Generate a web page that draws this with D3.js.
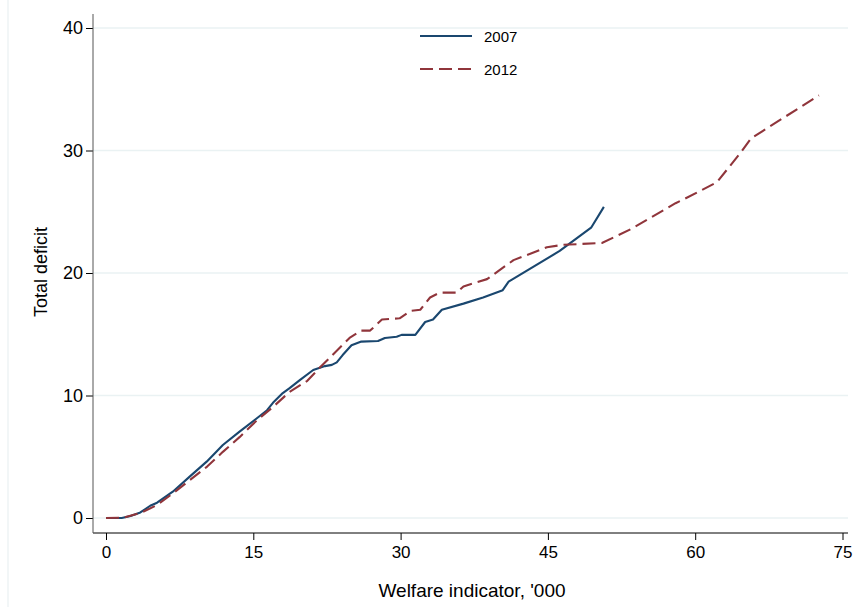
<!DOCTYPE html>
<html>
<head>
<meta charset="utf-8">
<script src="https://cdn.jsdelivr.net/npm/d3@7"></script>
<style>
    body { margin: 0; background: #fff; }
    text { font-family: "Liberation Sans", Arial, sans-serif; fill: #000; }
</style>
</head>
<body>
<div id="chart"></div>
<script>
// Series values (welfare indicator '000, total deficit)
var x2007 = [0, 1.6, 2.5, 3.5, 4.5, 5.2, 6.8, 8.55, 10.25, 11.9, 13.6, 15.3, 16.4, 17.0, 18.0, 18.7, 19.8, 21.1, 22.3, 23.0, 23.5, 24.1, 25.0, 26.0, 27.7, 28.4, 29.6, 30.1, 31.5, 32.5, 33.3, 34.2, 36.4, 38.4, 40.4, 41.0, 46.2, 49.4, 50.7];
var y2007 = [0, 0, 0.16, 0.45, 1.0, 1.25, 2.15, 3.4, 4.6, 5.96, 7.05, 8.1, 8.8, 9.4, 10.2, 10.6, 11.3, 12.08, 12.4, 12.5, 12.7, 13.3, 14.1, 14.4, 14.45, 14.7, 14.8, 14.95, 14.95, 16.0, 16.2, 17.0, 17.5, 18.0, 18.6, 19.3, 21.8, 23.7, 25.4];

var x2012 = [0, 1.7, 3.5, 5.2, 6.8, 8.55, 10.3, 11.9, 13.6, 15.4, 17.0, 18.7, 20.5, 21.8, 22.8, 24.8, 26.0, 26.9, 28.1, 29.9, 31.0, 32.0, 33.0, 34.0, 35.7, 36.4, 38.8, 41.5, 44.9, 46.5, 50.5, 53.5, 58.0, 58.8, 62.2, 64.7, 65.7, 72.6];
var y2012 = [0, 0.02, 0.4, 1.06, 2.0, 3.1, 4.2, 5.4, 6.6, 8.0, 9.06, 10.3, 11.2, 12.3, 13.1, 14.7, 15.3, 15.3, 16.2, 16.3, 16.9, 17.0, 18.0, 18.4, 18.4, 18.9, 19.5, 21.05, 22.1, 22.3, 22.45, 23.6, 25.7, 26.0, 27.4, 29.9, 31.0, 34.5];

var xTicks = [0, 15, 30, 45, 60, 75];
var yTicks = [0, 10, 20, 30, 40];
var seriesNames = ["2007", "2012"];
var seriesColors = ["#1a476f", "#90353b"];

var svgWidth = 858;
var svgHeight = 607;

// Plot region edges
var plotLeft = 93;
var plotRight = 848;
var plotTop = 14;
var plotBottom = 533;

var svg = d3.select("#chart")
    .append("svg")
    .attr("width", svgWidth)
    .attr("height", svgHeight);

// faint outer frame on the left
svg.append("line")
    .attr("x1", 8).attr("x2", 8)
    .attr("y1", 0).attr("y2", svgHeight)
    .attr("stroke", "#eef3f4")
    .attr("stroke-width", 1.5);

var xScale = d3.scaleLinear()
    .domain([0, 75])
    .range([106, 842.5]);

var yScale = d3.scaleLinear()
    .domain([0, 40])
    .range([518, 28]);

// Gridlines
svg.append("g")
    .selectAll("line")
    .data(yTicks)
    .enter()
    .append("line")
    .attr("x1", plotLeft)
    .attr("x2", plotRight)
    .attr("y1", d => yScale(d))
    .attr("y2", d => yScale(d))
    .attr("stroke", "#eaf2f3")
    .attr("stroke-width", 1.5);

// Axes
var xAxis = d3.axisBottom(xScale).tickValues(xTicks).tickSize(7).tickPadding(6).tickSizeOuter(0);
var yAxis = d3.axisLeft(yScale).tickValues(yTicks).tickSize(7).tickPadding(3).tickSizeOuter(0);

var gx = svg.append("g")
    .attr("transform", `translate(0, ${plotBottom})`)
    .call(xAxis);
gx.select(".domain").remove();
gx.append("line")
    .attr("x1", plotLeft).attr("x2", plotRight)
    .attr("y1", 0).attr("y2", 0)
    .attr("stroke", "#000");
gx.selectAll(".tick line").attr("stroke", "#000");
gx.selectAll(".tick text").style("font-size", "17px");

var gy = svg.append("g")
    .attr("transform", `translate(${plotLeft}, 0)`)
    .call(yAxis);
gy.select(".domain").remove();
gy.append("line")
    .attr("x1", 0).attr("x2", 0)
    .attr("y1", plotTop).attr("y2", plotBottom)
    .attr("stroke", "#555");
gy.selectAll(".tick line").attr("stroke", "#000");
gy.selectAll(".tick text").style("font-size", "18px");

// Axis titles
svg.append("text")
    .attr("text-anchor", "middle")
    .attr("x", 472)
    .attr("y", 597)
    .style("font-size", "19px")
    .text("Welfare indicator, '000");

svg.append("text")
    .attr("text-anchor", "middle")
    .attr("transform", "rotate(-90)")
    .attr("x", -272)
    .attr("y", 47)
    .style("font-size", "18px")
    .text("Total deficit");

// Lines
var series = [
    { xs: x2007, ys: y2007, dash: null },
    { xs: x2012, ys: y2012, dash: "13,6" }
];

var line = d3.line()
    .x(d => xScale(d[0]))
    .y(d => yScale(d[1]));

series.forEach(function(s, i) {
    svg.append("path")
        .datum(d3.zip(s.xs, s.ys))
        .attr("fill", "none")
        .attr("stroke", seriesColors[i])
        .attr("stroke-width", 2.1)
        .attr("stroke-linejoin", "round")
        .attr("stroke-dasharray", s.dash)
        .attr("d", line);
});

// Legend
var legend = svg.append("g")
    .selectAll("g")
    .data(seriesNames)
    .enter()
    .append("g")
    .attr("transform", (d, i) => `translate(420, ${36 + i * 33})`);

legend.append("line")
    .attr("x1", 0).attr("x2", 52)
    .attr("y1", 0).attr("y2", 0)
    .attr("stroke", (d, i) => seriesColors[i])
    .attr("stroke-width", 2.1)
    .attr("stroke-dasharray", (d, i) => i === 1 ? "13,6" : null);

legend.append("text")
    .attr("x", 64)
    .attr("y", 6)
    .style("font-size", "15px")
    .text(d => d);
</script>
</body>
</html>
